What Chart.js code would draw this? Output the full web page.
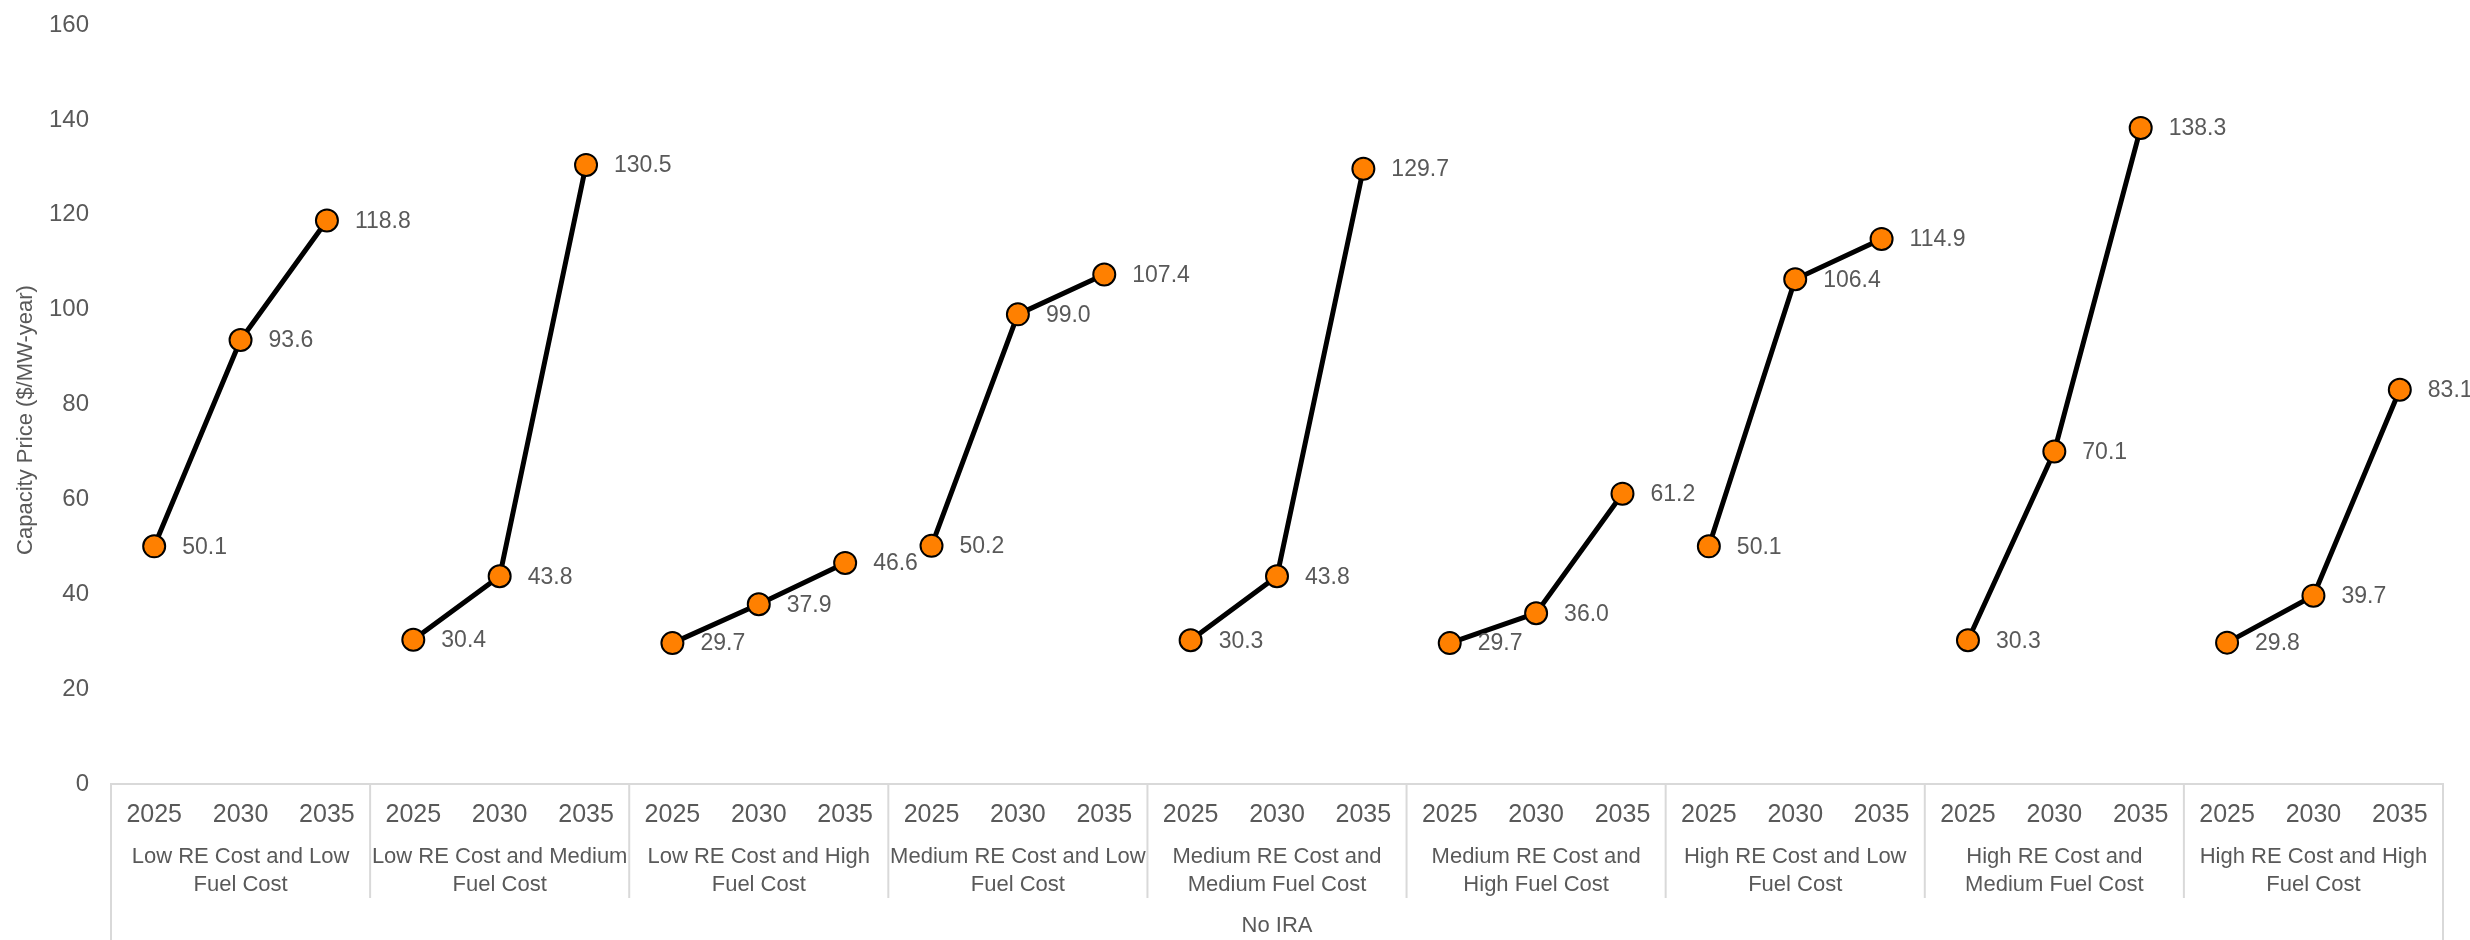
<!DOCTYPE html>
<html>
<head>
<meta charset="utf-8">
<script src="https://cdn.jsdelivr.net/npm/chart.js@4"></script>
<style>
  body { margin: 0; background: #fff; }
  canvas { display: block; }
</style>
</head>
<body>
<canvas id="chart" width="2470" height="940"></canvas>
<script>
const years = ['2025', '2030', '2035'];
const scenarios = [
    ['Low RE Cost and Low', 'Fuel Cost'],
    ['Low RE Cost and Medium', 'Fuel Cost'],
    ['Low RE Cost and High', 'Fuel Cost'],
    ['Medium RE Cost and Low', 'Fuel Cost'],
    ['Medium RE Cost and', 'Medium Fuel Cost'],
    ['Medium RE Cost and', 'High Fuel Cost'],
    ['High RE Cost and Low', 'Fuel Cost'],
    ['High RE Cost and', 'Medium Fuel Cost'],
    ['High RE Cost and High', 'Fuel Cost'],
];
const outerLabel = 'No IRA';

const lowReLowFuel = [50.1, 93.6, 118.8];
const lowReMedFuel = [30.4, 43.8, 130.5];
const lowReHighFuel = [29.7, 37.9, 46.6];
const medReLowFuel = [50.2, 99.0, 107.4];
const medReMedFuel = [30.3, 43.8, 129.7];
const medReHighFuel = [29.7, 36.0, 61.2];
const highReLowFuel = [50.1, 106.4, 114.9];
const highReMedFuel = [30.3, 70.1, 138.3];
const highReHighFuel = [29.8, 39.7, 83.1];

const yTicks = [0, 20, 40, 60, 80, 100, 120, 140, 160];

const groups = [lowReLowFuel, lowReMedFuel, lowReHighFuel, medReLowFuel, medReMedFuel,
                medReHighFuel, highReLowFuel, highReMedFuel, highReHighFuel];
const labels = scenarios.flatMap(() => years);
const values = groups.flat();

const textColor = '#595959';
const lineGray = '#d9d9d9';
const fontFamily = "'Liberation Sans', Arial, sans-serif";

// group separators, scenario names, outer label, axis title and point labels
const extrasPlugin = {
    id: 'extras',
    afterDraw(chart) {
        const ctx = chart.ctx;
        const area = chart.chartArea;
        const x = chart.scales.x;
        const n = labels.length;
        const bounds = [area.left];
        for (let i = 3; i < n; i += 3) {
            bounds.push((x.getPixelForValue(i - 1) + x.getPixelForValue(i)) / 2);
        }
        bounds.push(area.right);

        ctx.save();
        ctx.strokeStyle = lineGray;
        ctx.lineWidth = 2;
        bounds.forEach((b, i) => {
            const last = i === 0 || i === bounds.length - 1;
            ctx.beginPath();
            ctx.moveTo(b, area.bottom);
            ctx.lineTo(b, last ? chart.height : 898);
            ctx.stroke();
        });

        ctx.fillStyle = textColor;
        ctx.font = '22px ' + fontFamily;
        ctx.textAlign = 'center';
        ctx.textBaseline = 'middle';
        scenarios.forEach((lines, i) => {
            const cx = (bounds[i] + bounds[i + 1]) / 2;
            ctx.fillText(lines[0], cx, 857);
            ctx.fillText(lines[1], cx, 885);
        });
        ctx.fillText(outerLabel, (area.left + area.right) / 2, 926);

        ctx.save();
        ctx.translate(26, 420);
        ctx.rotate(-Math.PI / 2);
        ctx.fillText('Capacity Price ($/MW-year)', 0, 0);
        ctx.restore();

        ctx.textAlign = 'left';
        ctx.font = '23px ' + fontFamily;
        const meta = chart.getDatasetMeta(0);
        meta.data.forEach((pt, i) => {
            ctx.fillText(values[i].toFixed(1), pt.x + 28, pt.y + 1);
        });
        ctx.restore();
    }
};

Chart.defaults.font.family = fontFamily;

new Chart(document.getElementById('chart').getContext('2d'), {
    type: 'line',
    data: {
        labels: labels,
        datasets: [
            {
                label: 'Capacity Price',
                data: values,
                borderColor: '#000000',
                borderWidth: 5,
                pointBackgroundColor: '#ff8000',
                pointBorderColor: '#000000',
                pointBorderWidth: 2,
                pointRadius: 11,
                tension: 0,
                segment: {
                    borderColor: (c) => (c.p0DataIndex % 3 === 2 ? 'transparent' : '#000000'),
                },
            },
        ],
    },
    options: {
        responsive: false,
        animation: false,
        layout: {
            padding: { top: 0, right: 27, left: 0, bottom: 0 },
        },
        plugins: {
            legend: { display: false },
            tooltip: { enabled: false },
        },
        scales: {
            x: {
                type: 'category',
                offset: true,
                grid: { display: false, drawTicks: false },
                border: { display: true, color: lineGray, width: 2 },
                ticks: {
                    color: textColor,
                    font: { size: 25 },
                    padding: 16,
                    maxRotation: 0,
                    autoSkip: false,
                },
                afterFit: (s) => { s.height = 156; },
            },
            y: {
                min: 0,
                max: 160,
                afterBuildTicks: (s) => { s.ticks = yTicks.map((v) => ({ value: v })); },
                grid: { display: false, drawTicks: false },
                border: { display: false },
                ticks: {
                    color: textColor,
                    font: { size: 24 },
                    padding: 22,
                },
                afterFit: (s) => {
                    s.width = 111;
                    s.paddingTop = 25;
                    s.paddingBottom = 0;
                },
            },
        },
    },
    plugins: [extrasPlugin],
});
</script>
</body>
</html>
